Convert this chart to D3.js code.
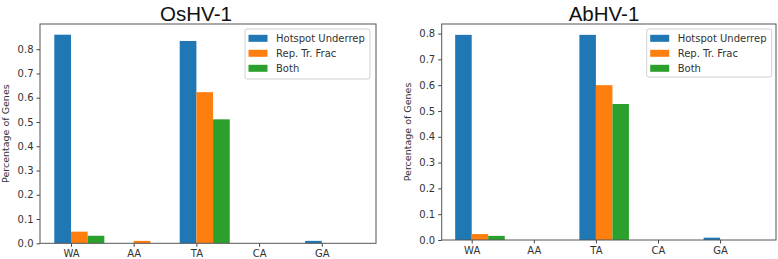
<!DOCTYPE html>
<html><head><meta charset="utf-8">
<script src="https://cdn.jsdelivr.net/npm/d3@7"></script>
<style>body{margin:0;background:#fff}svg{display:block}</style>
</head><body>
<svg id="c" width="778" height="259"></svg>
<script>
const categories = ["WA","AA","TA","CA","GA"];
const seriesNames = ["Hotspot Underrep","Rep. Tr. Frac","Both"];
const colors = ["#1f77b4","#ff7f0e","#2ca02c"];
const oshvHotspot = [0.86, 0, 0.834, 0, 0.01];
const oshvRep = [0.048, 0.01, 0.623, 0, 0];
const oshvBoth = [0.031, 0, 0.511, 0, 0];
const abhvHotspot = [0.795, 0, 0.795, 0, 0.009];
const abhvRep = [0.023, 0, 0.6, 0, 0];
const abhvBoth = [0.016, 0, 0.527, 0, 0];
const yTicks = [0,0.1,0.2,0.3,0.4,0.5,0.6,0.7,0.8];

const svg = d3.select("#c");
const W = 0.266;

const panels = [
  {title:"OsHV-1", series:[oshvHotspot,oshvRep,oshvBoth], x0:40, x1:376, y0:24, y1:243.3, ymax:0.904, xd:[-0.494,4.864], titleX:196, ylabX:9, leg:{x:245,y:29,w:125,h:50}},
  {title:"AbHV-1", series:[abhvHotspot,abhvRep,abhvBoth], x0:441.7, x1:776, y0:24, y1:240, ymax:0.837, xd:[-0.483,4.9], titleX:604, ylabX:411, leg:{x:646.7,y:29,w:125,h:48}}
];

const font = "DejaVu Sans, sans-serif";

panels.forEach(p => {
  const x = d3.scaleLinear().domain(p.xd).range([p.x0,p.x1]);
  const y = d3.scaleLinear().domain([0,p.ymax]).range([p.y1,p.y0]);
  const g = svg.append("g");

  // bars
  p.series.forEach((vals, s) => {
    g.append("g").selectAll("rect").data(vals.map((v,i)=>({v,i})).filter(d=>d.v>0))
      .join("rect")
      .attr("x", d => x(d.i + (s-1)*W))
      .attr("width", d => x(d.i + s*W) - x(d.i + (s-1)*W))
      .attr("y", d => y(d.v))
      .attr("height", d => y(0) - y(d.v))
      .attr("fill", colors[s]);
  });

  // y axis
  const ya = g.append("g").attr("transform",`translate(${p.x0},0)`)
    .call(d3.axisLeft(y).tickValues(yTicks).tickFormat(d3.format(".1f")).tickSize(3.5).tickPadding(3));
  ya.select(".domain").remove();
  ya.selectAll("text").attr("font-family",font).attr("font-size",10).attr("fill","#333");
  ya.selectAll("line").attr("stroke","#444");

  // x axis
  const xa = g.append("g").attr("transform",`translate(0,${p.y1})`)
    .call(d3.axisBottom(x).tickValues(d3.range(categories.length)).tickFormat(i=>categories[i]).tickSize(3.5).tickPadding(3));
  xa.select(".domain").remove();
  xa.selectAll("text").attr("font-family",font).attr("font-size",10).attr("fill","#333");
  xa.selectAll("line").attr("stroke","#444");

  // frame
  g.append("rect").attr("x",p.x0).attr("y",p.y0).attr("width",p.x1-p.x0).attr("height",p.y1-p.y0)
    .attr("fill","none").attr("stroke","#555").attr("stroke-width",1);

  // title
  g.append("text").attr("x",p.titleX).attr("y",20.5).attr("text-anchor","middle")
    .attr("font-family","Liberation Sans, Arial, sans-serif").attr("font-size",20.5).attr("fill","#111").text(p.title);

  // y label
  g.append("text").attr("transform",`translate(${p.ylabX},${(p.y0+p.y1)/2}) rotate(-90)`)
    .attr("text-anchor","middle").attr("font-family",font).attr("font-size",9.5).attr("fill","#333")
    .text("Percentage of Genes");

  // legend
  const L = p.leg;
  const lg = g.append("g");
  lg.append("rect").attr("x",L.x).attr("y",L.y).attr("width",L.w).attr("height",L.h).attr("rx",2)
    .attr("fill","#fff").attr("fill-opacity",0.85).attr("stroke","#d0d0d0");
  seriesNames.forEach((n,k) => {
    const cy = L.y + 9.3 + k*15;
    lg.append("rect").attr("x",L.x+3.5).attr("y",cy-3.5).attr("width",19).attr("height",7).attr("fill",colors[k]);
    lg.append("text").attr("x",L.x+31).attr("y",cy+3.5).attr("font-family",font).attr("font-size",10)
      .attr("fill","#333").text(n);
  });
});
</script>
</body></html>
